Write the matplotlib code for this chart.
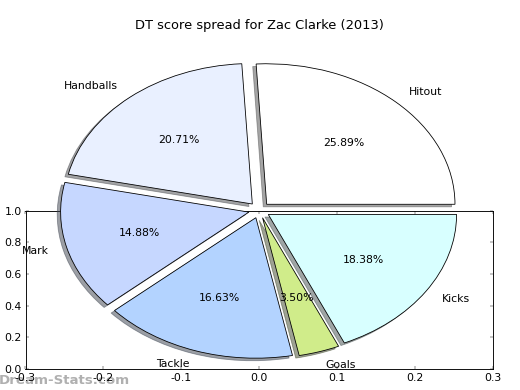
import matplotlib
matplotlib.use("Agg")
import matplotlib.pyplot as plt

# slice data, counter-clockwise from 3 o'clock
LABELS = ["Hitout", "Handballs", "Mark", "Tackle", "Goals", "Kicks"]
SHARES = [25.89, 20.71, 14.88, 16.63, 3.50, 18.38]
COLORS = ["#ffffff", "#e9f0ff", "#c6d7ff", "#b3d3ff", "#d0ec8a", "#d8ffff"]

TITLE = "DT score spread for Zac Clarke (2013)"
X_TICKS = [-0.3, -0.2, -0.1, 0.0, 0.1, 0.2, 0.3]
Y_TICKS = [0.0, 0.2, 0.4, 0.6, 0.8, 1.0]

W, H = 520, 390
plt.rcParams["font.family"] = "DejaVu Sans"
plt.rcParams["font.size"] = 12

fig = plt.figure(figsize=(8, 6), dpi=65)

# leftover empty axes under the pie
ax2 = fig.add_axes([25.5 / W, (H - 369) / H, 467.8 / W, 158.3 / H])
ax2.set_xlim(-0.3, 0.3)
ax2.set_ylim(0, 1)
ax2.set_xticks(X_TICKS)
ax2.set_yticks(Y_TICKS)
ax2.set_xticklabels(["%.1f" % t if t != 0 else "0.0" for t in X_TICKS])
ax2.set_yticklabels(["%.1f" % t for t in Y_TICKS])
ax2.tick_params(direction="in", top=True, right=True, length=3.5, width=0.5,
                labelsize=12, pad=4)
for s in ax2.spines.values():
    s.set_linewidth(1.0)

# pie drawn over the full figure, aspect stretched like the original
ax = fig.add_axes([0, 0, 1, 1])
ax.pie(SHARES, labels=LABELS, colors=COLORS, explode=[0.057] * len(SHARES),
       autopct="%.2f%%", shadow=True, startangle=0, labeldistance=1.1,
       pctdistance=0.6, frame=False,
       wedgeprops={"edgecolor": "black", "linewidth": 0.9},
       textprops={"fontsize": 12})
ax.set_aspect("auto")
cx, cy, rx, ry = 259.3, H - 210.1, 188.3, 140.5
ax.set_xlim(-cx / rx, (W - cx) / rx)
ax.set_ylim(-cy / ry, (H - cy) / ry)
ax.axis("off")

fig.text(259.5 / W, 1 - 25 / H, TITLE, ha="center", va="center", fontsize=14.4)
fig.text(-1 / W, 1 - 380 / H, "Dream-Stats.com", ha="left", va="center",
         fontsize=14.8, fontweight="bold", color="#b0b0b0", zorder=-1)

fig.savefig("out.png", dpi=65)
